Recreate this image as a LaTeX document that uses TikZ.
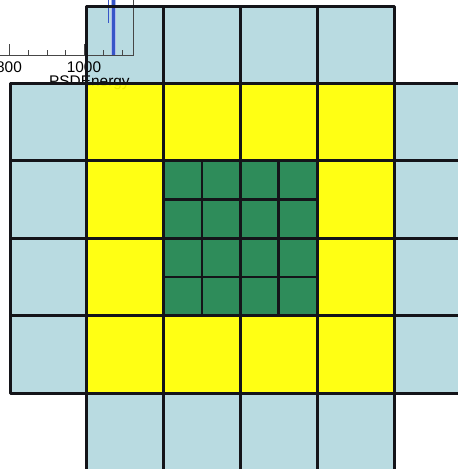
\documentclass[tikz,border=0pt]{standalone}
\usepackage{fontspec}
\setmainfont{Liberation Sans}
\definecolor{bleuclair}{RGB}{185,219,225}
\definecolor{jaune}{RGB}{255,255,0}
\definecolor{vert}{RGB}{46,140,90}
\definecolor{trait}{RGB}{20,20,25}
\definecolor{axe}{RGB}{70,70,70}
\definecolor{bleupic}{RGB}{55,85,200}
\begin{document}
\begin{tikzpicture}[x=1pt,y=-1pt]

\clip (0,0) rectangle (458,469);

% Rangee du haut
\foreach \c in {1,2,3,4}
{
\fill[bleuclair] (10+76.8*\c,6) rectangle ++(76.8,77.4);
}

% Histogramme
\draw[axe,line width=0.9pt] (0,55) -- (133,55) -- (133,0);
\foreach \x in {9,84}
{
\draw[axe,line width=0.9pt] (\x,55) -- (\x,44);
}
\foreach \x in {28,47,65,103,122}
{
\draw[axe,line width=0.9pt] (\x,55) -- (\x,50);
}
\draw[bleupic!40,line width=5pt] (113.5,0) -- (113.5,55);
\draw[bleupic,line width=2.6pt] (113.5,0) -- (113.5,55);
\draw[bleupic,line width=1.3pt] (108.3,0) -- (108.3,23);

\node[font=\fontsize{15.4}{16}\selectfont,anchor=north,inner sep=0pt] (lab800) at (9,62) {800};
\node[font=\fontsize{15.4}{16}\selectfont,anchor=north,inner sep=0pt] (lab1000) at (84,62) {1000};
\node[font=\fontsize{15.4}{16}\selectfont,anchor=north west,inner sep=0pt] (psd) at (49,76) {PSDEnergy};

% Colonnes laterales
\foreach \c in {0,5}
\foreach \r in {1,2,3,4}
{
\fill[bleuclair] (10+76.8*\c,6+77.4*\r) rectangle ++(76.8,77.4);
}

% Rangee du bas
\foreach \c in {1,2,3,4}
{
\fill[bleuclair] (10+76.8*\c,393) rectangle ++(76.8,77.4);
}

% Couronne jaune
\foreach \c/\r in {
1/1,2/1,3/1,4/1,
1/2,4/2,
1/3,4/3,
1/4,2/4,3/4,4/4
}
{
\fill[jaune,opacity=0.92] (10+76.8*\c,6+77.4*\r) rectangle ++(76.8,77.4);
}

% Centre vert
\fill[vert] (163.6,160.8) rectangle (317.2,315.6);

% Traits
\foreach \c in {1,2,3,4}
{
\draw[trait,line width=3pt,line join=round] (10+76.8*\c,6) rectangle ++(76.8,77.4);
\draw[trait,line width=3pt,line join=round] (10+76.8*\c,393) rectangle ++(76.8,77.4);
}
\foreach \c in {0,1,2,3,4,5}
\foreach \r in {1,2,3,4}
{
\draw[trait,line width=3pt,line join=round] (10+76.8*\c,6+77.4*\r) rectangle ++(76.8,77.4);
}
\foreach \i in {0,1,2,3}
\foreach \j in {0,1,2,3}
{
\draw[trait,line width=2.8pt] (163.6+38.4*\i,160.8+38.7*\j) rectangle ++(38.4,38.7);
}

\end{tikzpicture}
\end{document}
